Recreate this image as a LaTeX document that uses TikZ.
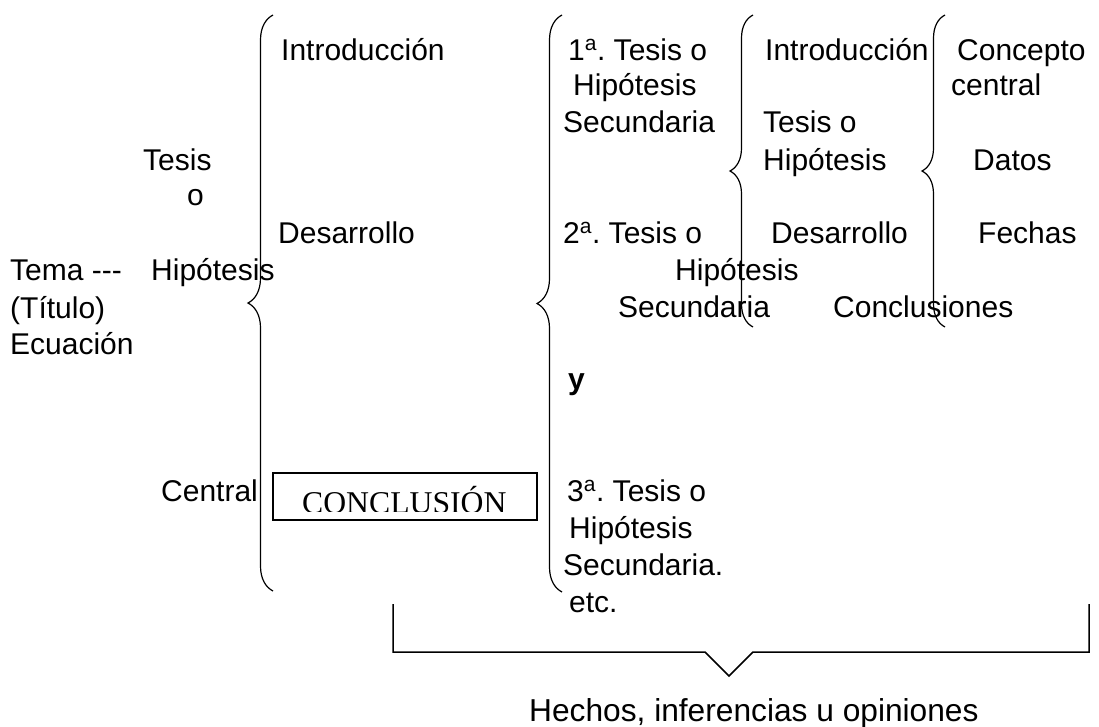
\documentclass[tikz,border=0pt]{standalone}
\usepackage{fontspec}
\setmainfont{Liberation Sans}
\newfontfamily\romana{Liberation Serif}
\usepackage{tikz}
\usetikzlibrary{decorations.pathreplacing}

\begin{document}
\frenchspacing
\begin{tikzpicture}[x=1pt,y=-1pt]
    \fontsize{30}{37}\selectfont  % tamaño de letra
    \tikzstyle{txt}=[anchor=base west,inner sep=0pt]  % texto alineado por la línea base
    \tikzstyle{llave}=[decorate,decoration={brace,mirror,amplitude=25pt},line width=1.2pt]  % llave abierta a la derecha
    \tikzstyle{llavec}=[llave,decoration={brace,mirror,amplitude=23pt}]
    \useasboundingbox (0,0) rectangle (1099,726);

    % columna izquierda
    \node[txt](tesis) at (143,170){Tesis};
    \node[txt](o) at (187,205){o};
    \node[txt](tema) at (10,280){Tema {-}{-}{-}};
    \node[txt](hip) at (151,280){Hipótesis};
    \node[txt](titulo) at (10,318){(Título)};
    \node[txt](ecu) at (10,354){Ecuación};
    \node[txt](central) at (161,501){Central};

    % primera llave
    \draw[llave](273,15) -- (273,591);
    \node[txt](intro) at (281,60){Introducción};
    \node[txt](des) at (278,243){Desarrollo};
    \draw[line width=1.5pt](273,473) rectangle (537,520);
    \begin{scope}
      \clip (273,473) rectangle (537,511);
      \node[txt,font=\romana\fontsize{31.7}{38}\selectfont](concl) at (302,513){CONCLUSIÓN};
    \end{scope}

    % segunda llave
    \draw[llave](562,15) -- (562,592);
    \node[txt](t1a) at (568,60){1\textsuperscript{a}. Tesis o};
    \node[txt](t1b) at (573,95){Hipótesis};
    \node[txt](t1c) at (563,132){Secundaria};
    \node[txt](t2a) at (563,243){2\textsuperscript{a}. Tesis o};
    \node[txt](t2b) at (675,280){Hipótesis};
    \node[txt](t2c) at (618,317){Secundaria};
    \node[txt,font=\bfseries](y) at (568,389){y};
    \node[txt](t3a) at (567,501){3\textsuperscript{a}. Tesis o};
    \node[txt](t3b) at (569,538){Hipótesis};
    \node[txt](t3c) at (563,575){Secundaria.};
    \node[txt](etc) at (569,612){etc.};

    % tercera y cuarta llave
    \draw[llavec](753,15) -- (753,327);
    \node[txt](intro2) at (765,60){Introducción};
    \node[txt](tes2) at (763,132){Tesis o};
    \node[txt](hip2) at (763,170){Hipótesis};
    \node[txt](des2) at (771,243){Desarrollo};
    \node[txt](conc2) at (833,317){Conclusiones};
    \draw[llavec](945,15) -- (945,327);
    \node[txt](conc) at (957,60){Concepto};
    \node[txt](cent) at (951,95){central};
    \node[txt](datos) at (973,170){Datos};
    \node[txt](fechas) at (978,243){Fechas};

    % corchete inferior
    \coordinate (ci) at (393,604);
    \coordinate (p1) at (705,652);
    \coordinate (pico) at (729,676);
    \coordinate (p2) at (753,652);
    \coordinate (cd) at (1089,604);
    \draw[line width=1.5pt](ci) |- (p1) -- (pico) -- (p2) -| (cd);
    \node[txt,font=\fontsize{31.7}{38}\selectfont](hechos) at (529,721){Hechos, inferencias u opiniones};
\end{tikzpicture}
\end{document}
